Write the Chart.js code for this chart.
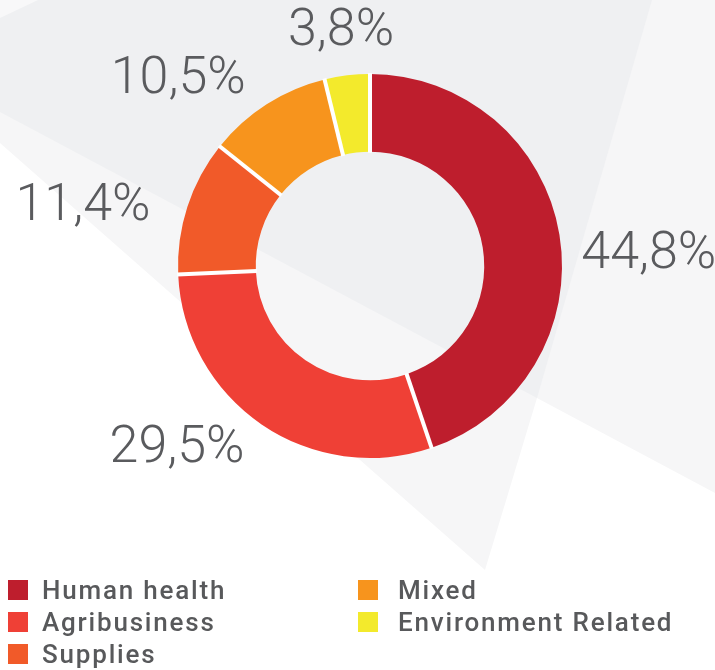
<!DOCTYPE html>
<html lang="en">
<head>
    <meta charset="UTF-8">
    <title>Sector Share Doughnut</title>
    <script src="https://cdn.jsdelivr.net/npm/chart.js"></script>
    <style>
        body { margin: 0; background: #fff; }
        #wrap { position: relative; width: 715px; height: 670px; overflow: hidden; }
        #legend {
            position: absolute; left: 8px; top: 574px;
            display: grid; grid-auto-flow: column;
            grid-template-rows: repeat(3, 32px); grid-template-columns: 350px 350px;
            font-family: Roboto, sans-serif; font-weight: 500; font-size: 26px;
            letter-spacing: 1.8px; color: #58595b;
        }
        #legend div { display: flex; align-items: center; }
        #legend span.box { width: 20px; height: 20px; margin-right: 14px; display: inline-block; }
        #legend div:nth-child(n+4) span.box { margin-right: 20px; }
    </style>
</head>
<body>
    <div id="wrap">
        <canvas id="sectorChart" width="715" height="670"></canvas>
        <div id="legend"></div>
    </div>

    <script>
        // data
        const sectors = ['Human health', 'Agribusiness', 'Supplies', 'Mixed', 'Environment Related'];
        const shares = [44.8, 29.5, 11.4, 10.5, 3.8];
        const sectorColors = ['#be1e2d', '#ef4036', '#f15a29', '#f7941d', '#f3ea2c'];

        // nudges for the percent labels (dx, dy), the design places them freely
        const labelNudge = [[8, 26], [-38, -4], [-26, 11], [-44, 4], [2, -10]];

        // grey background wedges behind the chart
        const backdrop = {
            id: 'backdrop',
            beforeDraw(chart) {
                const ctx = chart.ctx;
                const poly = (pts, color) => {
                    ctx.beginPath();
                    ctx.moveTo(pts[0][0], pts[0][1]);
                    pts.slice(1).forEach(p => ctx.lineTo(p[0], p[1]));
                    ctx.closePath();
                    ctx.fillStyle = color;
                    ctx.fill();
                };
                ctx.save();
                poly([[0, 0], [715, 0], [715, 493], [537, 398], [485, 570], [0, 143]], '#f6f6f7');
                poly([[0, 112], [537, 398], [652, 0], [0, 0]], '#eff0f2');
                poly([[0, 0], [38, 0], [0, 18]], '#f8f8f9');
                ctx.restore();
            }
        };

        // white radial gaps between slices
        const sliceGaps = {
            id: 'sliceGaps',
            afterDatasetsDraw(chart) {
                const ctx = chart.ctx;
                const meta = chart.getDatasetMeta(0);
                ctx.save();
                ctx.strokeStyle = '#ffffff';
                ctx.lineWidth = 4;
                meta.data.forEach(arc => {
                    const p = arc.getProps(['x', 'y', 'startAngle', 'innerRadius', 'outerRadius']);
                    const c = Math.cos(p.startAngle), s = Math.sin(p.startAngle);
                    ctx.beginPath();
                    ctx.moveTo(p.x + c * (p.innerRadius - 1), p.y + s * (p.innerRadius - 1));
                    ctx.lineTo(p.x + c * (p.outerRadius + 1), p.y + s * (p.outerRadius + 1));
                    ctx.stroke();
                });
                ctx.restore();
            }
        };

        // percent labels outside each arc
        const outerLabels = {
            id: 'outerLabels',
            afterDatasetsDraw(chart) {
                const ctx = chart.ctx;
                const meta = chart.getDatasetMeta(0);
                ctx.save();
                ctx.font = '300 52px Roboto';
                ctx.fillStyle = '#5a5b5e';
                ctx.textAlign = 'center';
                ctx.textBaseline = 'middle';
                meta.data.forEach((arc, i) => {
                    const p = arc.getProps(['x', 'y', 'startAngle', 'endAngle', 'outerRadius']);
                    const mid = (p.startAngle + p.endAngle) / 2;
                    const r = p.outerRadius + 15;
                    const text = shares[i].toFixed(1).replace('.', ',') + '%';
                    const w = ctx.measureText(text).width;
                    const h = 38;
                    const cx = p.x + Math.cos(mid) * r + Math.cos(mid) * w / 2 + labelNudge[i][0];
                    const cy = p.y + Math.sin(mid) * r + Math.sin(mid) * h / 2 + labelNudge[i][1];
                    ctx.fillText(text, cx, cy);
                });
                ctx.restore();
            }
        };

        const ctx = document.getElementById('sectorChart').getContext('2d');
        const chart = new Chart(ctx, {
            type: 'doughnut',
            data: {
                labels: sectors,
                datasets: [{
                    data: shares,
                    backgroundColor: sectorColors,
                    borderWidth: 0
                }]
            },
            options: {
                responsive: false,
                animation: false,
                radius: 192,
                cutout: '59.5%',
                layout: { padding: { left: 25, right: 0, top: 0, bottom: 138 } },
                plugins: {
                    legend: { display: false },
                    tooltip: { enabled: false }
                }
            },
            plugins: [backdrop, sliceGaps, outerLabels]
        });

        // html legend in two columns, built from the chart's own items
        const items = chart.options.plugins.legend.labels.generateLabels(chart);
        document.getElementById('legend').innerHTML = items.map(it =>
            '<div><span class="box" style="background:' + it.fillStyle + '"></span>' + it.text + '</div>'
        ).join('');
    </script>
</body>
</html>
